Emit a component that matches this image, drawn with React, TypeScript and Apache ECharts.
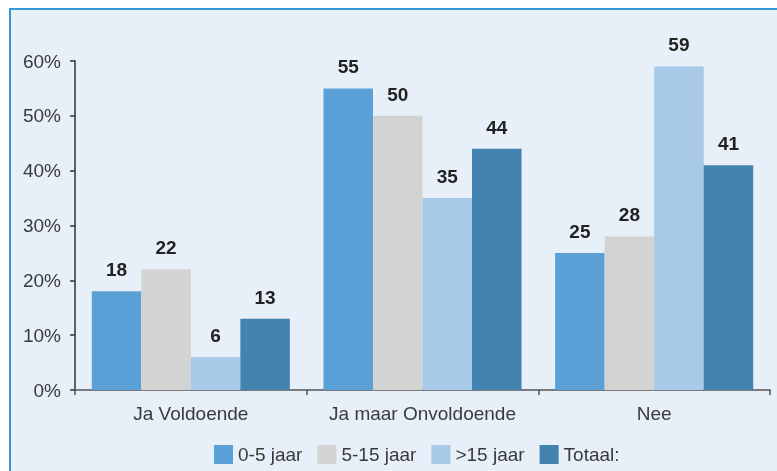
import React, { useEffect, useRef } from "react";
import * as echarts from "echarts";

const categories = ["Ja Voldoende", "Ja maar Onvoldoende", "Nee"];
const seriesNames = ["0-5 jaar", "5-15 jaar", ">15 jaar", "Totaal:"];
const values0to5 = [18, 55, 25];
const values5to15 = [22, 50, 28];
const valuesOver15 = [6, 35, 59];
const valuesTotal = [13, 44, 41];
const yTicks = [0, 10, 20, 30, 40, 50, 60];
const colors = ["#5aa0d6", "#d3d3d3", "#a9c9e8", "#4383b0"];

export default function App() {
  const ref = useRef<HTMLDivElement>(null);
  useEffect(() => {
    if (!ref.current) return;
    const chart = echarts.init(ref.current, null, { renderer: "svg" });
    const data = [values0to5, values5to15, valuesOver15, valuesTotal];
    chart.setOption({
      animation: false,
      textStyle: { fontFamily: "Liberation Sans, Arial, sans-serif" },
      graphic: [
        {
          type: "rect",
          z: -10,
          silent: true,
          shape: { x: 10, y: 9, width: 800, height: 500 },
          style: { fill: "#e7eff9", stroke: "#3a96d2", lineWidth: 2 },
        },
      ],
      grid: { left: 75, right: 7, top: 61, bottom: 81, containLabel: false },
      legend: {
        top: 440,
        left: 209,
        itemWidth: 19,
        itemHeight: 19,
        itemGap: 15,
        icon: "rect",
        textStyle: { fontSize: 19, color: "#3a3a3a" },
        data: seriesNames,
      },
      xAxis: {
        type: "category",
        data: categories,
        axisLine: { show: true, lineStyle: { color: "#555", width: 1.5 } },
        axisTick: { show: true, interval: 0, length: 5, lineStyle: { color: "#555", width: 1.5 } },
        axisLabel: { fontSize: 19, color: "#3a3a3a", margin: 14, interval: 0 },
      },
      yAxis: {
        type: "value",
        min: yTicks[0],
        max: yTicks[yTicks.length - 1],
        interval: 10,
        axisLine: { show: true, lineStyle: { color: "#333", width: 1.5 } },
        axisTick: { show: true, length: 5, lineStyle: { color: "#333", width: 1.5 } },
        splitLine: { show: false },
        axisLabel: { fontSize: 19, color: "#3a3a3a", margin: 14, formatter: "{value}%" },
      },
      series: seriesNames.map((name, i) => ({
        name,
        type: "bar",
        data: data[i],
        barGap: "0%",
        barCategoryGap: "14.5%",
        itemStyle: { color: colors[i] },
        label: {
          show: true,
          position: "top",
          distance: 12,
          fontSize: 19,
          fontWeight: "bold",
          color: "#222",
        },
      })),
    });
    return () => chart.dispose();
  }, []);
  return (
    <div
      ref={ref}
      style={{ position: "fixed", left: 0, top: 0, width: 777, height: 471 }}
    />
  );
}
